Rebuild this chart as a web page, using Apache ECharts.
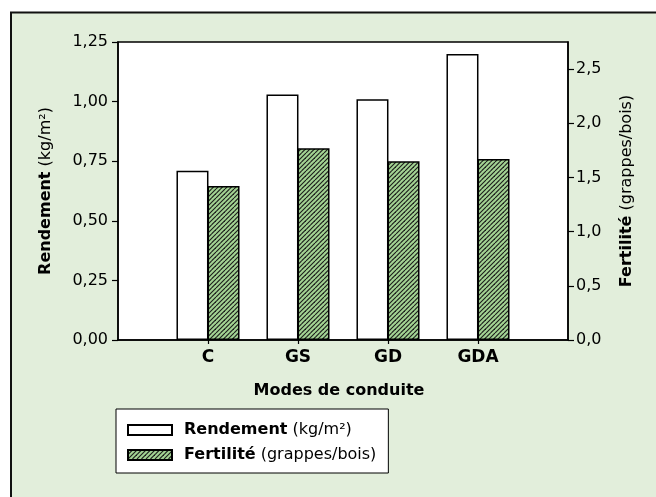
<!DOCTYPE html>
<html>
<head>
<meta charset="utf-8">
<script src="https://cdn.jsdelivr.net/npm/echarts@6/dist/echarts.min.js"></script>
<style>
  html, body { margin: 0; padding: 0; background: #fff; }
  #chart { width: 656px; height: 497px; }
</style>
</head>
<body>
<div id="chart"></div>
<script>
// données
var categories = ["C", "GS", "GD", "GDA"];
var rendement = [0.71, 1.03, 1.01, 1.20];   // kg/m2
var fertilite = [1.42, 1.77, 1.65, 1.67];   // grappes/bois
var leftTicks = [0, 0.25, 0.5, 0.75, 1, 1.25];
var rightTicks = [0, 0.5, 1, 1.5, 2, 2.5];

var FONT = "DejaVu Sans";

// motif hachuré vert
function hatch() {
  var c = document.createElement("canvas");
  c.width = 9;
  c.height = 9;
  var ctx = c.getContext("2d");
  ctx.fillStyle = "#a3d393";
  ctx.fillRect(0, 0, 9, 9);
  ctx.strokeStyle = "#1a1a1a";
  ctx.lineWidth = 1.1;
  [-9, -4.5, 0, 4.5, 9].forEach(function (k) {
    ctx.beginPath();
    ctx.moveTo(k, 9);
    ctx.lineTo(k + 9, 0);
    ctx.stroke();
  });
  return c;
}

var units = { "Rendement": " (kg/m²)", "Fertilité": " (grappes/bois)" };

var chart = echarts.init(document.getElementById("chart"), null, { renderer: "canvas" });

var option = {
  animation: false,
  backgroundColor: "#fff",
  textStyle: { fontFamily: FONT, color: "#000" },
  graphic: [{
    type: "rect",
    z: -10,
    shape: { x: 11, y: 12.5, width: 700, height: 550 },
    style: { fill: "#e2eedb", stroke: "#111", lineWidth: 2 }
  }],
  grid: {
    left: 118, right: 88, top: 42, bottom: 157,
    show: true, backgroundColor: "#fff", borderColor: "#000", borderWidth: 1.5
  },
  legend: {
    orient: "vertical",
    left: 116, top: 409,
    backgroundColor: "#fff",
    borderColor: "#000",
    borderWidth: 1,
    borderRadius: 0,
    padding: [13, 12, 10, 11],
    itemGap: 9,
    itemWidth: 44,
    itemHeight: 10,
    icon: "rect",
    formatter: function (name) { return "{b|" + name + "}" + units[name]; },
    textStyle: {
      fontFamily: FONT, fontSize: 16, color: "#000", padding: [0, 0, 0, 7],
      rich: { b: { fontFamily: FONT, fontSize: 16, fontWeight: "bold", color: "#000" } }
    }
  },
  xAxis: {
    type: "value",
    min: 0, max: 5, interval: 1,
    name: "Modes de conduite",
    nameLocation: "middle",
    nameGap: 43,
    nameTextStyle: { fontFamily: FONT, fontSize: 16, fontWeight: "bold", color: "#000", padding: [0, 8, 0, 0] },
    splitLine: { show: false },
    axisLine: { lineStyle: { color: "#000", width: 1.5 } },
    axisTick: { length: 4, lineStyle: { color: "#000", width: 1.2 }, customValues: [1, 2, 3, 4] },
    axisLabel: {
      customValues: [1, 2, 3, 4],
      margin: 9,
      fontFamily: FONT, fontSize: 17, fontWeight: "bold", color: "#000",
      formatter: function (v) { return categories[v - 1] || ""; }
    }
  },
  yAxis: [{
    type: "value",
    min: 0, max: 1.25, interval: 0.25,
    name: "{b|Rendement} (kg/m²)",
    nameLocation: "middle",
    nameRotate: 90,
    nameGap: 64,
    nameTextStyle: {
      fontFamily: FONT, fontSize: 16, color: "#000",
      rich: { b: { fontFamily: FONT, fontSize: 16, fontWeight: "bold", color: "#000" } }
    },
    splitLine: { show: false },
    axisLine: { show: true, lineStyle: { color: "#000", width: 1.5 } },
    axisTick: { show: true, length: 6, lineStyle: { color: "#000", width: 1.2 }, customValues: leftTicks },
    axisLabel: {
      customValues: leftTicks,
      margin: 10, fontFamily: FONT, fontSize: 16, color: "#000",
      formatter: function (v) { return v.toFixed(2).replace(".", ","); }
    }
  }, {
    type: "value",
    position: "right",
    min: 0, max: 2.75,
    name: "{b|Fertilité} (grappes/bois)",
    nameLocation: "middle",
    nameRotate: 90,
    nameGap: 51,
    nameTextStyle: {
      fontFamily: FONT, fontSize: 16, color: "#000",
      rich: { b: { fontFamily: FONT, fontSize: 16, fontWeight: "bold", color: "#000" } }
    },
    splitLine: { show: false },
    axisLine: { show: true, lineStyle: { color: "#000", width: 1.5 } },
    axisTick: { show: true, length: 6, lineStyle: { color: "#000", width: 1.2 }, customValues: rightTicks },
    axisLabel: {
      customValues: rightTicks,
      margin: 8, fontFamily: FONT, fontSize: 16, color: "#000",
      formatter: function (v) { return v.toFixed(1).replace(".", ","); }
    }
  }],
  series: [{
    name: "Rendement",
    type: "bar",
    yAxisIndex: 0,
    barWidth: 32,
    barGap: "-3%",
    itemStyle: { color: "#fff", borderColor: "#000", borderWidth: 1.5 },
    data: rendement.map(function (v, i) { return [i + 1, v]; })
  }, {
    name: "Fertilité",
    type: "bar",
    yAxisIndex: 1,
    barWidth: 32,
    barGap: "-3%",
    itemStyle: { color: { image: hatch(), repeat: "repeat" }, borderColor: "#000", borderWidth: 1.5 },
    data: fertilite.map(function (v, i) { return [i + 1, v]; })
  }]
};

chart.setOption(option);
</script>
</body>
</html>
